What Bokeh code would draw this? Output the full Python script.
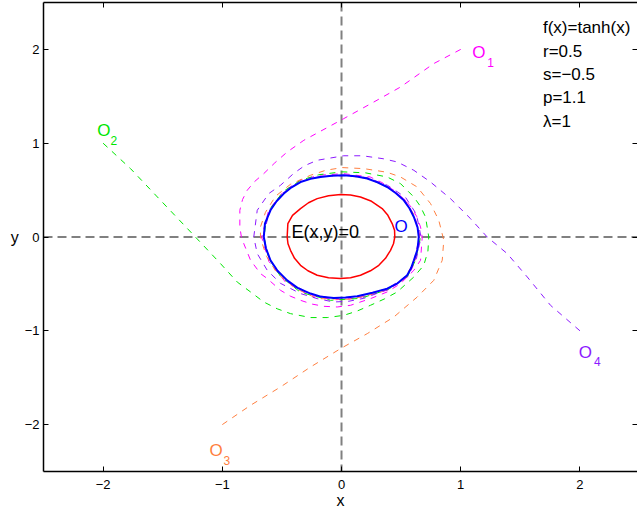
from bokeh.plotting import figure
from bokeh.models import Span, LinearAxis, FixedTicker, Range1d
from bokeh.core.properties import value
from bokeh.embed import file_html
from bokeh.resources import INLINE

FONT = "Liberation Sans"

# ---- data ----
tick_values = [-2, -1, 0, 1, 2]
tick_labels = ["\u22122", "\u22121", "0", "1", "2"]

cycle_x = [-0.652, -0.642, -0.596, -0.545, -0.484, -0.419, -0.344, -0.260, -0.176, -0.084, 0.019,
           0.117, 0.216, 0.302, 0.383, 0.457, 0.523, 0.570, 0.607, 0.638, 0.648, 0.638, 0.607,
           0.583, 0.551, 0.470, 0.383, 0.260, 0.132, 0.034, -0.065, -0.168, -0.260, -0.369,
           -0.456, -0.537, -0.596, -0.634, -0.652]
cycle_y = [0.0, 0.146, 0.285, 0.381, 0.463, 0.530, 0.586, 0.620, 0.640, 0.652, 0.658,
           0.647, 0.623, 0.583, 0.533, 0.466, 0.391, 0.306, 0.213, 0.103, 0.0, -0.131, -0.248,
           -0.334, -0.408, -0.494, -0.550, -0.595, -0.632, -0.646, -0.650, -0.638, -0.603, -0.542,
           -0.462, -0.360, -0.248, -0.120, 0.0]

energy_x = [-0.456, -0.450, -0.411, -0.344, -0.277, -0.204, -0.109, -0.008, 0.076, 0.159, 0.252,
            0.341, 0.389, 0.425, 0.445, 0.447, 0.436, 0.411, 0.369, 0.313, 0.243, 0.159, 0.076,
            -0.008, -0.109, -0.204, -0.282, -0.344, -0.394, -0.428, -0.449, -0.456]
energy_y = [0.0, 0.143, 0.231, 0.303, 0.365, 0.409, 0.439, 0.452, 0.447, 0.426, 0.381,
            0.303, 0.231, 0.143, 0.071, 0.0, -0.072, -0.142, -0.227, -0.302, -0.360, -0.408, -0.435,
            -0.443, -0.435, -0.408, -0.360, -0.302, -0.227, -0.142, -0.072, 0.0]

o1_x = [1.0, 0.774, 0.495, 0.271, 0.019, -0.316, -0.456, -0.560, -0.652, -0.730, -0.791, -0.830,
        -0.853, -0.853, -0.840, -0.820, -0.763, -0.680, -0.623, -0.512, -0.430, -0.344, -0.248,
        -0.148, -0.036, 0.076, 0.243, 0.383, 0.495, 0.607, 0.663, 0.677, 0.663, 0.630, 0.590,
        0.537, 0.439, 0.340, 0.24, 0.02, -0.18, -0.35, -0.49, -0.61, -0.67, -0.61, -0.47, -0.27,
        -0.06, 0.14, 0.39, 0.56, 0.62, 0.66, 0.615, 0.53, 0.39]
o1_y = [2.0, 1.849, 1.599, 1.439, 1.262, 1.031, 0.906, 0.790, 0.676, 0.590, 0.498, 0.400,
        0.285, 0.107, 0.0, -0.070, -0.248, -0.390, -0.443, -0.568, -0.630, -0.675, -0.715,
        -0.739, -0.746, -0.728, -0.657, -0.586, -0.497, -0.355, -0.248, 0.0, 0.107, 0.220, 0.310,
        0.391, 0.498, 0.580, 0.64, 0.675, 0.66, 0.605, 0.48, 0.29, 0.0, -0.26, -0.48, -0.62,
        -0.67, -0.65, -0.565, -0.42, -0.255, 0.0, 0.22, 0.40, 0.54]

o2_x = [-2.0, -1.770, -1.518, -1.239, -1.015, -0.875, -0.763, -0.652, -0.540, -0.428, -0.260,
        -0.120, 0.019, 0.130, 0.243, 0.360, 0.467, 0.607, 0.690, 0.725, 0.732, 0.705, 0.660,
        0.607, 0.495, 0.383, 0.201, 0.0, -0.193, -0.344, -0.487, -0.596, -0.635, -0.650,
        -0.612, -0.512, -0.344, -0.092, 0.159, 0.394, 0.554, 0.621, 0.663]
o2_y = [1.0, 0.729, 0.391, 0.018, -0.284, -0.480, -0.586, -0.693, -0.765, -0.817, -0.859,
        -0.859, -0.835, -0.790, -0.728, -0.660, -0.586, -0.426, -0.302, -0.150, 0.0, 0.213,
        0.330, 0.426, 0.569, 0.640, 0.684, 0.695, 0.663, 0.604, 0.487, 0.306, 0.150, 0.0,
        -0.227, -0.419, -0.590, -0.675, -0.654, -0.558, -0.419, -0.248, 0.0]

o3_x = [-1.0, -0.763, -0.512, -0.260, -0.008, 0.216, 0.439, 0.635, 0.774, 0.845, 0.858, 0.816,
        0.747, 0.635, 0.495, 0.383, 0.187, 0.006, -0.130, -0.260, -0.428, -0.554, -0.638, -0.680,
        -0.680, -0.665, -0.629, -0.539, -0.386, -0.204, 0.076, 0.327, 0.512, 0.612, 0.654, 0.612,
        0.520, 0.378, 0.210, 0.017]
o3_y = [-2.0, -1.794, -1.599, -1.386, -1.190, -1.030, -0.853, -0.640, -0.462, -0.248, -0.035,
        0.178, 0.356, 0.533, 0.640, 0.690, 0.729, 0.740, 0.712, 0.658, 0.562, 0.434, 0.263, 0.107,
        0.0, -0.070, -0.206, -0.390, -0.547, -0.657, -0.664, -0.590, -0.462, -0.270, 0.0, 0.231,
        0.402, 0.541, 0.626, 0.658]

o4_x = [2.0, 1.753, 1.558, 1.390, 1.222, 1.082, 0.914, 0.747, 0.607, 0.467, 0.352, 0.176,
        0.019, -0.204, -0.310, -0.400, -0.512, -0.610, -0.707, -0.736, -0.707, -0.623, -0.512,
        -0.344, -0.204, -0.065, 0.060, 0.187, 0.411, 0.551, 0.629, 0.667, 0.629, 0.537, 0.386,
        0.216, 0.02, -0.18, -0.35, -0.49, -0.60, -0.66, -0.60, -0.46, -0.26, -0.065, 0.13, 0.385,
        0.553, 0.61, 0.652]
o4_y = [-1.0, -0.728, -0.426, -0.177, 0.0, 0.196, 0.409, 0.586, 0.711, 0.800, 0.834, 0.866,
        0.866, 0.818, 0.760, 0.679, 0.551, 0.463, 0.285, 0.0, -0.177, -0.355, -0.494, -0.603,
        -0.657, -0.693, -0.685, -0.654, -0.547, -0.408, -0.227, 0.0, 0.242, 0.423, 0.551, 0.633,
        0.655, 0.645, 0.59, 0.47, 0.29, 0.0, -0.25, -0.47, -0.61, -0.655, -0.635, -0.552, -0.41,
        -0.25, 0.0]

c_mag, c_green, c_orange, c_purple = "#FF00FF", "#00E600", "#FF7F40", "#8C1AFF"

lbl_x = [1.097, -2.050, -1.107, 1.991, 0.445]
lbl_y = [1.962, 1.138, -2.274, -1.232, 0.114]
lbl_text = ["O", "O", "O", "O", "O"]
lbl_color = [c_mag, c_green, c_orange, c_purple, "#0000FF"]
sub_x = [1.222, -1.938, -0.990, 2.118]
sub_y = [1.862, 1.031, -2.381, -1.322]
sub_text = ["1", "2", "3", "4"]
sub_color = [c_mag, c_green, c_orange, c_purple]

info_text = ["f(x)=tanh(x)", "r=0.5", "s=\u22120.5", "p=1.1", "\u03bb=1"]
info_y = [2.230, 1.980, 1.735, 1.484, 1.233]
info_x = [1.690] * 5

# ---- figure ----
p = figure(width=637, height=511, output_backend="svg", toolbar_location=None,
           x_range=Range1d(-2.5, 2.483), y_range=Range1d(-2.5, 2.5),
           min_border_left=43, min_border_right=0, min_border_top=2, min_border_bottom=40,
           background_fill_color="white", border_fill_color="white")
p.outline_line_color = None
p.grid.visible = False

overrides = {v: t for v, t in zip(tick_values, tick_labels)}
for ax in [p.xaxis[0], p.yaxis[0]]:
    ax.ticker = FixedTicker(ticks=tick_values)
    ax.major_label_overrides = overrides
    ax.major_tick_in = 5
    ax.major_tick_out = 0
    ax.minor_tick_line_color = None
    ax.axis_line_width = 1.5
    ax.axis_line_color = "black"
    ax.major_tick_line_color = "black"
    ax.major_label_text_font = FONT
    ax.major_label_text_font_size = "13px"
    ax.major_label_text_color = "black"
    ax.axis_label_text_font = FONT
    ax.axis_label_text_font_size = "16px"
    ax.axis_label_text_font_style = "normal"
    ax.axis_label_text_color = "black"

p.xaxis.axis_label = "x"
p.xaxis.major_label_standoff = 8
p.xaxis.axis_label_standoff = 0
p.yaxis.axis_label = "y"
p.yaxis.major_label_standoff = 4
p.yaxis.axis_label_standoff = 3
p.yaxis.axis_label_orientation = "horizontal"

top_ax = LinearAxis(ticker=FixedTicker(ticks=tick_values), major_label_text_color=None,
                    major_label_text_font_size="1px",
                    major_tick_in=5, major_tick_out=0, minor_tick_line_color=None,
                    major_label_standoff=0, axis_line_width=1.5)
p.add_layout(top_ax, "above")
right_ax = LinearAxis(ticker=FixedTicker(ticks=tick_values), major_label_text_color=None,
                      major_label_text_font_size="1px",
                      major_tick_in=5, major_tick_out=0, minor_tick_line_color=None,
                      major_label_standoff=0, axis_line_color=None)
p.add_layout(right_ax, "right")

p.add_layout(Span(location=0, dimension="width", line_color="#808080", line_width=2,
                  line_dash="9 5", level="underlay"))
p.add_layout(Span(location=0, dimension="height", line_color="#808080", line_width=2,
                  line_dash="9 5", level="underlay"))

for xs, ys, c in [(o1_x, o1_y, c_mag), (o2_x, o2_y, c_green), (o3_x, o3_y, c_orange),
                  (o4_x, o4_y, c_purple)]:
    p.line(xs, ys, line_color=c, line_width=1, line_dash="6 6")

p.line(energy_x, energy_y, line_color="#FF0000", line_width=1.5)
p.line(cycle_x, cycle_y, line_color="#0000FF", line_width=2)

p.text(x=lbl_x, y=lbl_y, text=lbl_text, text_color=lbl_color, text_font=value(FONT),
       text_font_size=value("17px"), text_baseline="alphabetic", text_align="left")
p.text(x=sub_x, y=sub_y, text=sub_text, text_color=sub_color, text_font=value(FONT),
       text_font_size=value("12px"), text_baseline="alphabetic", text_align="left")
p.text(x=[-0.419], y=[0.053], text=["E(x,y)=0"], text_color="black", text_font=value(FONT),
       text_font_size=value("18px"), text_baseline="alphabetic", text_align="left")
p.text(x=info_x, y=info_y, text=info_text, text_color="black", text_font=value(FONT),
       text_font_size=value("17px"), text_baseline="alphabetic", text_align="left")

open("out.html", "w").write(file_html(p, INLINE))
